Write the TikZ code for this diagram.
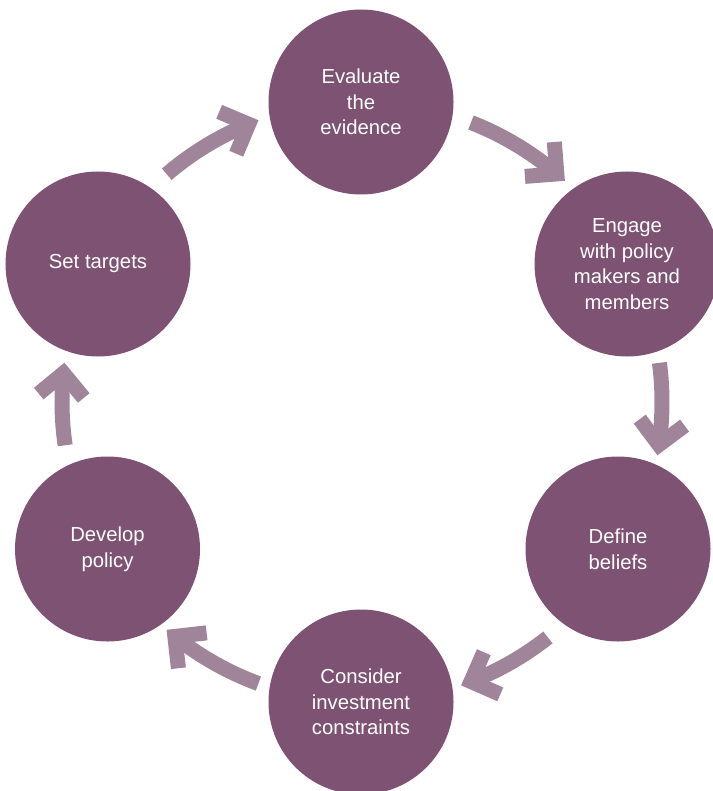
\documentclass[tikz,border=0pt]{standalone}
\usepackage{fontspec}
\setmainfont{Liberation Sans}
\usetikzlibrary{calc}
\definecolor{plum}{RGB}{126,82,114}
\definecolor{lilac}{RGB}{160,132,153}
\begin{document}
\begin{tikzpicture}[x=1pt,y=1pt,
  stage/.style={circle, fill=plum, minimum size=185pt, inner sep=0pt, text=white, align=center, font=\fontsize{20.3}{25.5}\selectfont},
  band/.style={draw=lilac, line width=15pt, line cap=butt, line join=miter}]
\path[use as bounding box] (0,0) rectangle (712,-791);
\node[stage] (ev) at (361,-102) {Evaluate\\the\\evidence};
\node[stage] (en) at (627,-264) {Engage\\with policy\\makers and\\members};
\node[stage] (db) at (618,-549) {Define\\beliefs};
\node[stage] (ci) at (361,-702) {Consider\\investment\\constraints};
\node[stage] (dp) at (107.5,-549) {Develop\\policy};
\node[stage] (st) at (98,-264) {Set targets};
\coordinate (O) at (362,-402);
\foreach \s/\e [count=\i] in {130.6/112.2, 68.7/49.5, 7.5/-8.2, -51.7/-68.7, 249.8/231.4, 188.3/174.5} {
  \coordinate (t\i) at ($(O)+(\s:300)$);
  \coordinate (h\i) at ($(O)+(\e:300)$);
  \draw[band] (t\i) arc[start angle=\s, end angle=\e, radius=300];
  \draw[band] ($(h\i)+(\e+45:32)$) -- (h\i) -- ($(h\i)+(\e+135:32)$);
}
\end{tikzpicture}
\end{document}
